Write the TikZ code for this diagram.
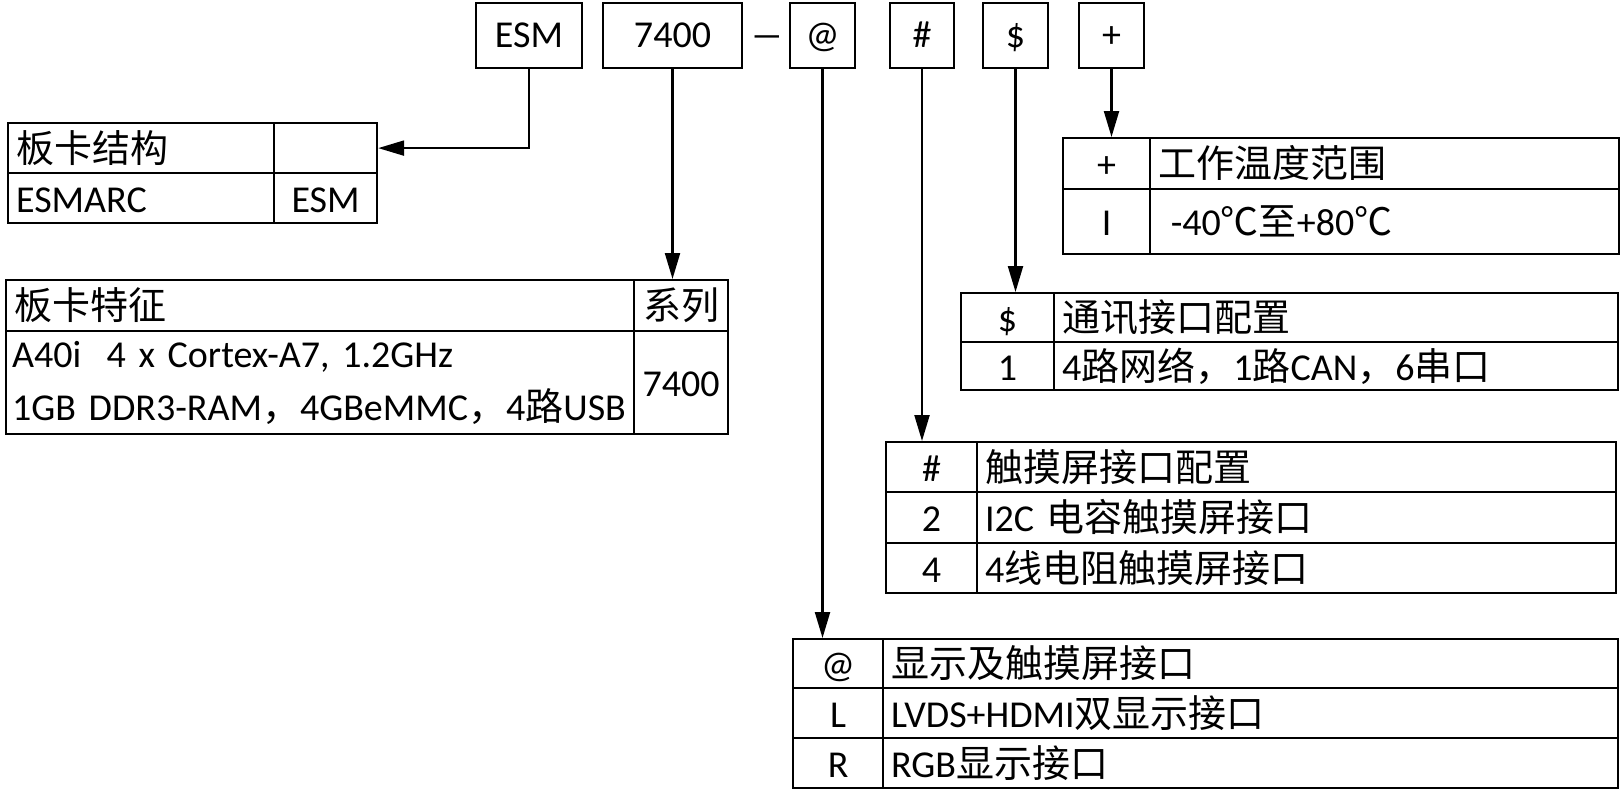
\documentclass[tikz,border=0pt]{standalone}
\usepackage{fontspec}
\setmainfont{Carlito}
\newfontfamily\cjk{Noto Sans CJK SC}
\usetikzlibrary{arrows.meta}

\begin{document}
\begin{tikzpicture}[
    x=1pt, y=-1pt,
    font=\fontsize{38}{50}\selectfont,
    link/.style={-{Triangle[length=26pt,width=15pt]}, line width=2.2pt},
    codebox/.style={draw, line width=2.2pt, minimum height=65pt, inner sep=0pt, text height=29.5pt, text depth=5pt},
    cell/.style={draw, line width=2.2pt, anchor=north west, inner sep=0pt},
    ccell/.style={cell, minimum width=#1, text height=33.5pt, text depth=5pt},
    lcell/.style={cell, inner xsep=8pt, align=left, text width=#1, text height=33.5pt, text depth=5pt}
]
  \useasboundingbox (0,0) rectangle (1621,790);

  % type code
  \node[codebox, minimum width=106pt] (codeESM) at (529,35.5) {ESM};
  \node[codebox, minimum width=139pt] (code7400) at (672.5,35.5) {7400};
  \node[inner sep=0pt, text height=29.5pt, text depth=5pt] (dash) at (767,35.5) {\scalebox{1.8}[1]{–}};
  \node[codebox, minimum width=65pt] (codeAt) at (822.5,35.5) {@};
  \node[codebox, minimum width=64pt] (codeHash) at (922,35.5) {\#};
  \node[codebox, minimum width=65pt] (codeDollar) at (1015.5,35.5) {\$};
  \node[codebox, minimum width=65pt] (codePlus) at (1111.5,35.5) {+};

  % board structure
  \node[lcell=250pt, minimum height=50pt] (structHead) at (7,122) {{\cjk 板卡结构}};
  \node[ccell=103pt, minimum height=50pt] (structHeadR) at (273,122) {};
  \node[lcell=250pt, minimum height=50pt] (structName) at (7,172) {ESMARC};
  \node[ccell=103pt, minimum height=50pt] (structCode) at (273,172) {ESM};

  % board features
  \node[lcell=612pt, minimum height=51pt] (featHead) at (5,279) {{\cjk 板卡特征}};
  \node[ccell=94pt, minimum height=51pt] (featHeadR) at (633,279) {{\cjk 系列}};
  \node[cell, inner xsep=6pt, align=left, text width=616pt, minimum height=103pt,
        font=\fontsize{38}{53}\selectfont] (featBody) at (5,330)
       {A40i\ \ 4 x Cortex-A7, 1.2GHz\\1GB DDR3-RAM{\cjk ，}4GBeMMC{\cjk ，}4{\cjk 路}USB};
  \node[ccell=94pt, minimum height=103pt] (featCode) at (633,330) {7400};

  % temperature
  \node[ccell=87pt, minimum height=51pt] (tempKey) at (1062,137) {+};
  \node[lcell=453pt, minimum height=51pt] (tempHead) at (1149,137) {{\cjk 工作温度范围}};
  \node[ccell=87pt, minimum height=65pt] (tempKeyI) at (1062,188) {I};
  \node[lcell=453pt, minimum height=65pt] (tempRange) at (1149,188) {\ -40{\cjk ℃至}+80{\cjk ℃}};

  % communication
  \node[ccell=93pt, minimum height=49pt] (commKey) at (960,292) {\$};
  \node[lcell=548pt, minimum height=49pt] (commHead) at (1053,292) {{\cjk 通讯接口配置}};
  \node[ccell=93pt, minimum height=48pt] (commKey1) at (960,341) {1};
  \node[lcell=548pt, minimum height=48pt] (commVal) at (1053,341) {4{\cjk 路网络，}1{\cjk 路}CAN{\cjk ，}6{\cjk 串口}};

  % touch screen
  \node[ccell=91pt, minimum height=50pt] (touchKey) at (885,441) {\#};
  \node[lcell=623pt, minimum height=50pt] (touchHead) at (976,441) {{\cjk 触摸屏接口配置}};
  \node[ccell=91pt, minimum height=51pt] (touchKey2) at (885,491) {2};
  \node[lcell=623pt, minimum height=51pt] (touchCap) at (976,491) {I2C {\cjk 电容触摸屏接口}};
  \node[ccell=91pt, minimum height=50pt] (touchKey4) at (885,542) {4};
  \node[lcell=623pt, minimum height=50pt] (touchRes) at (976,542) {4{\cjk 线电阻触摸屏接口}};

  % display
  \node[ccell=90pt, minimum height=49pt] (dispKey) at (792,638) {@};
  \node[lcell=719pt, minimum height=49pt] (dispHead) at (882,638) {{\cjk 显示及触摸屏接口}};
  \node[ccell=90pt, minimum height=50pt] (dispKeyL) at (792,687) {L};
  \node[lcell=719pt, minimum height=50pt] (dispDual) at (882,687) {LVDS+HDMI{\cjk 双显示接口}};
  \node[ccell=90pt, minimum height=50pt] (dispKeyR) at (792,737) {R};
  \node[lcell=719pt, minimum height=50pt] (dispRGB) at (882,737) {RGB{\cjk 显示接口}};

  \draw[link] (codeESM.south) |- (structHeadR.east);
  \foreach \src/\dst in {code7400/featHead, codeAt/dispKey, codeHash/touchKey, codeDollar/commKey, codePlus/tempKey}
    \draw[link] (\src.south) -- (\src.south |- \dst.north);
\end{tikzpicture}
\end{document}
